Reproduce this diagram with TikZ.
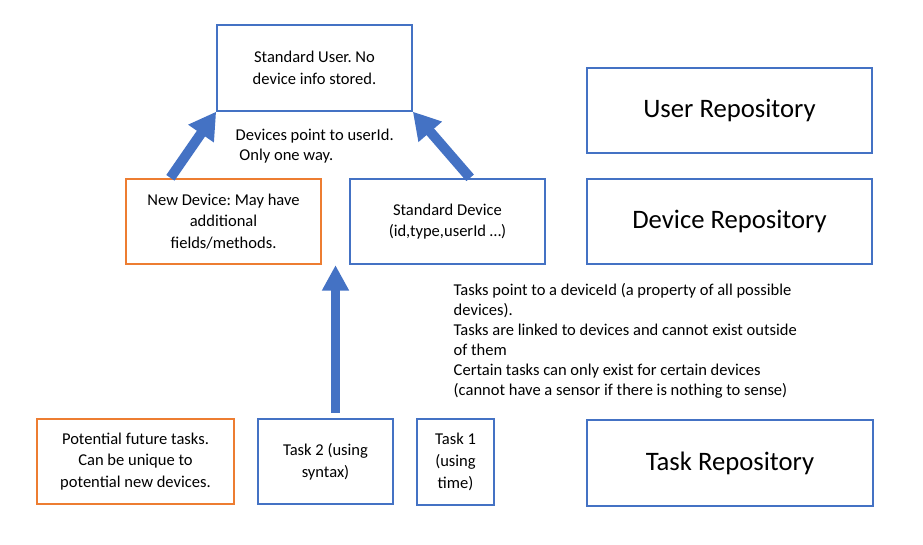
\documentclass[tikz,border=0pt]{standalone}
\usepackage{fontspec}
\setmainfont{Carlito}
\frenchspacing
\usetikzlibrary{arrows.meta}
\usetikzlibrary{positioning,calc}
\definecolor{boxblue}{HTML}{4472C4}
\definecolor{boxorange}{HTML}{ED7D31}

\begin{document}
\begin{tikzpicture}[x=0.75pt,y=-0.75pt,
  every node/.style={font=\fontsize{12.4}{16.2}\selectfont,align=center},
  box/.style={draw=boxblue,line width=1.5pt,minimum width=146pt,minimum height=64pt},
  newbox/.style={box,draw=boxorange},
  repo/.style={box,minimum width=214pt,font=\fontsize{20}{24}\selectfont},
  bigarrow/.style={draw=boxblue,line width=7.5pt,-{Triangle[width=22pt,length=20pt]}},
  uparrow/.style={draw=boxblue,line width=6.75pt,-{Triangle[width=19pt,length=19pt]}}]
\useasboundingbox (0,0) rectangle (923,545);
% users and devices
\node[box] (stduser) at (314.5,68) {Standard User. No\\device info stored.};
\node[newbox] (newdev) at (223.5,221.5) {New Device: May have\\additional\\fields/methods.};
\node[box] (stddev) at (447.5,221.5) {Standard Device\\(id,type,userId …)};
\node[anchor=west,align=left,font=\fontsize{12.4}{15}\selectfont] (usernote) at (231,146) {Devices point to userId.\\\ Only one way.};
% tasks
\node[newbox,minimum width=148pt] (future) at (135.5,461.5) {Potential future tasks.\\Can be unique to\\potential new devices.};
\node[box,minimum width=101pt] (task2) at (325.5,461.5) {Task 2 (using\\syntax)};
\node[box,minimum width=58pt,minimum height=65pt] (task1) at (455.5,462) {Task 1\\(using\\time)};
\node[anchor=west,align=left,font=\fontsize{12.4}{15}\selectfont] (tasknote) at (449,341)
  {Tasks point to a deviceId (a property of all possible\\devices).\\Tasks are linked to devices and cannot exist outside\\of them\\Certain tasks can only exist for certain devices\\(cannot have a sensor if there is nothing to sense)};
% repositories
\node[repo] (userrepo) at (729.5,110.5) {User Repository};
\node[repo] (devrepo) at (729.5,221.5) {Device Repository};
\node[repo] (taskrepo) at (730,463) {Task Repository};
% links
\draw[bigarrow] ($(newdev.north west)!0.23!(newdev.north east)$) -- (stduser.south west);
\draw[bigarrow] ($(stddev.north west)!0.615!(stddev.north east)$) -- (stduser.south east);
\coordinate (devgap) at ($(newdev.south east)!0.5!(stddev.south west)$);
\draw[uparrow] ($(devgap |- task2.north)+(0,-5)$) -- (devgap);
\end{tikzpicture}
\end{document}
